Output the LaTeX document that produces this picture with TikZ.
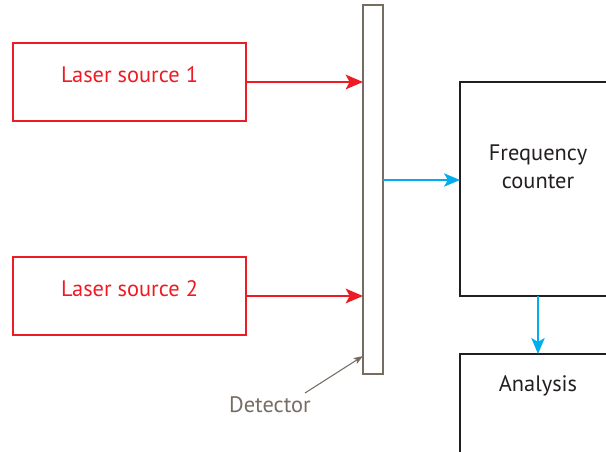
\documentclass[tikz,border=0pt]{standalone}
\usepackage{fontspec}
\setmainfont{PT Sans}
\usetikzlibrary{arrows.meta}
\definecolor{laserred}{RGB}{237,28,36}
\definecolor{signalblue}{RGB}{0,174,239}
\definecolor{detgray}{RGB}{117,108,98}
\definecolor{boxblack}{RGB}{35,31,32}
\tikzset{
  laserbox/.style={draw=laserred, line width=1.5pt, minimum width=233*0.75pt, minimum height=78*0.75pt, inner sep=0pt},
  unitbox/.style={draw=boxblack, line width=1.5pt},
  redarrow/.style={draw=laserred, line width=1.5pt, -{Stealth[length=13pt,width=11pt,inset=3pt]}},
  bluearrow/.style={draw=signalblue, line width=1.5pt, -{Stealth[length=12pt,width=10pt,inset=3pt]}},
  labeltext/.style={font=\fontsize{16.8}{21}\selectfont}
}
\begin{document}
\begin{tikzpicture}[x=0.75pt,y=-0.75pt]
\useasboundingbox (0,0) rectangle (606,452);
\clip (0,0) rectangle (606,452);
% laser sources
\node[laserbox] (l1) at (129.5,82) {};
\node[labeltext, text=laserred] (l1t) at (129.5,75) {Laser source 1};
\node[laserbox] (l2) at (129.5,296) {};
\node[labeltext, text=laserred] (l2t) at (129.5,289) {Laser source 2};
% detector bar
\draw[detgray, line width=1.5pt] (363,5) rectangle (383,374);
\coordinate (d1) at (363,82);
\coordinate (d2) at (363,296);
\coordinate (dout) at (383,180);
\coordinate (dtip) at (363,356);
% frequency counter and analysis (run off the right/bottom edge)
\draw[unitbox] (640,82) -- (460,82) -- (460,296) -- (640,296);
\coordinate (fcin) at (460,180);
\coordinate (fcout) at (538,296);
\node[labeltext, text=boxblack, align=center] (fct) at (538,167) {Frequency\\counter};
\draw[unitbox] (640,354) -- (460,354) -- (460,480);
\coordinate (anin) at (538,354);
\node[labeltext, text=boxblack] (ant) at (538,386) {Analysis};
% connectors
\draw[redarrow] (l1.east) -- (d1);
\draw[redarrow] (l2.east) -- (d2);
\draw[bluearrow] (dout) -- (fcin);
\draw[bluearrow] (fcout) -- (anin);
% detector label
\node[labeltext, text=detgray] (det) at (270,405) {Detector};
\coordinate (detfoot) at (305,393);
\draw[detgray, line width=0.8pt, -{Stealth[length=7pt,width=5pt,inset=1.5pt]}] (detfoot) -- (dtip);
\end{tikzpicture}
\end{document}
